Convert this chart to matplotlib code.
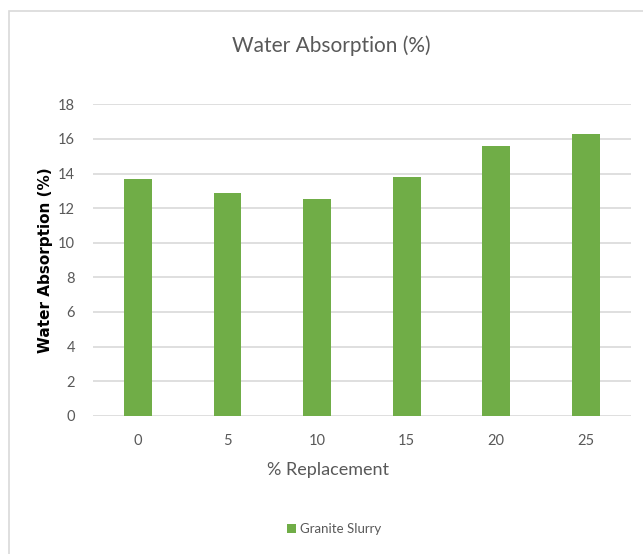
import matplotlib.pyplot as plt
from matplotlib.patches import Rectangle

# water absorption for each replacement level
replacement = ['0', '5', '10', '15', '20', '25']
absorption = [13.7, 12.9, 12.5, 13.8, 15.6, 16.3]
series_name = 'Granite Slurry'

green = '#70AD47'
grey_text = '#595959'
narrow = ['Lato', 'DejaVu Sans']

fig = plt.figure(figsize=(6.43, 5.54), dpi=100)
ax = fig.add_axes([0.1451, 0.2496, 0.8355, 0.5621])

# chart area border (top and left edges visible)
fig.patches.append(Rectangle((9 / 643, -0.1), 1.2, 1 - 11 / 554 + 0.1,
                             transform=fig.transFigure, fill=False,
                             edgecolor='#D9D9D9', linewidth=1.2))

x = range(len(replacement))
ax.bar(x, absorption, width=0.31, color=green, label=series_name, zorder=3)

ax.set_xlim(-0.5, len(replacement) - 0.5)
ax.set_ylim(0, 18)
ax.set_yticks(range(0, 19, 2))
ax.set_xticks(list(x))
ax.set_xticklabels(replacement)
ax.yaxis.grid(True, color='#D9D9D9', linewidth=1.2, zorder=0)
ax.set_axisbelow(True)
for s in ax.spines.values():
    s.set_visible(False)
ax.tick_params(length=0, labelsize=10.5, labelcolor=grey_text)
ax.tick_params(axis='y', pad=13)
ax.tick_params(axis='x', pad=13)
for lbl in ax.get_xticklabels() + ax.get_yticklabels():
    lbl.set_family(narrow)

# title and x label are centred on the chart area, not the plot area
fig.text(331 / 643, 1 - 46 / 554, 'Water Absorption (%)', fontsize=15,
         color=grey_text, family=narrow, ha='center', va='center')
fig.text(328 / 643, 1 - 470 / 554, '% Replacement', fontsize=13,
         color=grey_text, family=narrow, ha='center', va='center')
ax.set_ylabel('Water Absorption (%)', fontsize=11, fontweight='bold',
              color='black', family='DejaVu Sans', labelpad=4)

leg = fig.legend(loc='center', bbox_to_anchor=(334 / 643, 1 - 529 / 554),
                 frameon=False, handlelength=0.7, handleheight=0.7,
                 handletextpad=0.3, prop={'family': narrow, 'size': 9.5})
for t in leg.get_texts():
    t.set_color(grey_text)

fig.savefig('out.png', dpi=100)
